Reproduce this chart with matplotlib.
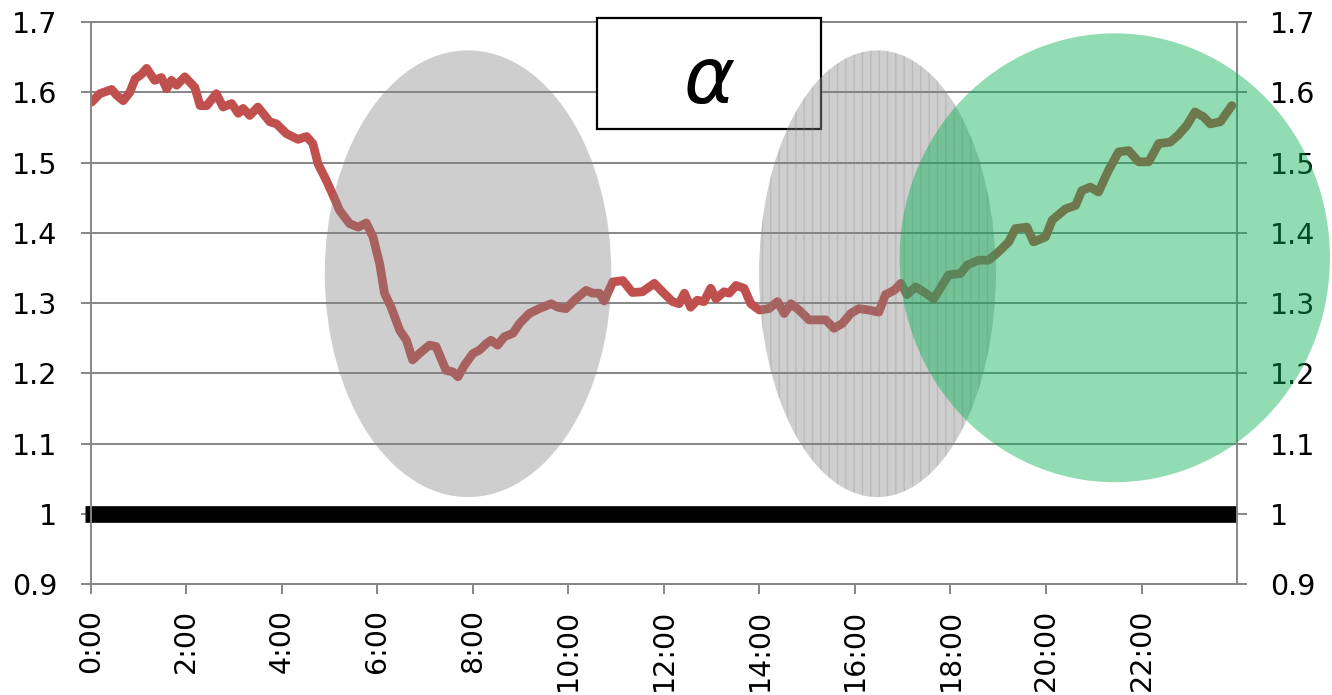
import matplotlib
matplotlib.use('Agg')
import matplotlib.pyplot as plt
from matplotlib.patches import Ellipse, Rectangle
from matplotlib.ticker import FuncFormatter, MultipleLocator

plt.rcParams['font.family'] = ['DejaVu Sans']
plt.rcParams['font.size'] = 20.5

# 时间（小时）与数值
hours = [0.02, 0.19, 0.44, 0.54, 0.68, 0.82, 0.93, 1.07, 1.17, 1.34, 1.48, 1.59, 1.69, 1.80, 1.97,
         2.18, 2.29, 2.43, 2.63, 2.77, 2.95, 3.09, 3.19, 3.33, 3.50, 3.75, 3.89, 4.10, 4.34, 4.52,
         4.65, 4.76, 4.93, 5.09, 5.21, 5.42, 5.60, 5.77, 5.91, 6.05, 6.15, 6.29, 6.47, 6.61, 6.74,
         6.88, 7.09, 7.23, 7.44, 7.58, 7.69, 7.83, 8.00, 8.14, 8.28, 8.38, 8.52, 8.66, 8.84, 8.98,
         9.18, 9.39, 9.64, 9.78, 9.95, 10.16, 10.37, 10.51, 10.65, 10.75, 10.93, 11.14, 11.34, 11.55,
         11.80, 11.97, 12.18, 12.32, 12.43, 12.56, 12.70, 12.84, 12.98, 13.09, 13.26, 13.37, 13.51,
         13.68, 13.82, 14.00, 14.20, 14.38, 14.52, 14.66, 14.83, 15.04, 15.21, 15.39, 15.56, 15.74,
         15.91, 16.08, 16.29, 16.50, 16.64, 16.82, 16.96, 17.09, 17.27, 17.48, 17.65, 17.96, 18.21,
         18.35, 18.59, 18.80, 19.01, 19.22, 19.36, 19.60, 19.74, 19.99, 20.13, 20.41, 20.62, 20.75,
         20.93, 21.10, 21.31, 21.52, 21.73, 21.94, 22.15, 22.36, 22.60, 22.77, 22.95, 23.12, 23.30,
         23.44, 23.65, 23.89]
values = [1.586, 1.598, 1.604, 1.596, 1.588, 1.600, 1.619, 1.626, 1.634, 1.617, 1.621, 1.605, 1.617,
          1.610, 1.622, 1.607, 1.581, 1.581, 1.598, 1.579, 1.584, 1.570, 1.577, 1.567, 1.579, 1.558,
          1.555, 1.541, 1.533, 1.537, 1.527, 1.498, 1.475, 1.451, 1.432, 1.413, 1.408, 1.414, 1.394,
          1.356, 1.314, 1.294, 1.261, 1.247, 1.219, 1.228, 1.240, 1.238, 1.204, 1.202, 1.195, 1.212,
          1.228, 1.233, 1.242, 1.247, 1.240, 1.252, 1.257, 1.271, 1.285, 1.292, 1.299, 1.294, 1.292,
          1.306, 1.318, 1.314, 1.314, 1.303, 1.330, 1.332, 1.315, 1.316, 1.328, 1.316, 1.302, 1.299,
          1.314, 1.294, 1.304, 1.302, 1.321, 1.306, 1.316, 1.314, 1.325, 1.321, 1.299, 1.290, 1.292,
          1.302, 1.285, 1.299, 1.290, 1.276, 1.276, 1.276, 1.264, 1.271, 1.285, 1.292, 1.290, 1.287,
          1.312, 1.318, 1.328, 1.312, 1.323, 1.314, 1.306, 1.340, 1.342, 1.354, 1.361, 1.361, 1.373,
          1.387, 1.406, 1.408, 1.387, 1.394, 1.418, 1.434, 1.439, 1.460, 1.465, 1.458, 1.489, 1.515,
          1.517, 1.501, 1.501, 1.527, 1.529, 1.539, 1.553, 1.572, 1.565, 1.555, 1.558, 1.581]

baseline = 1.0

# 椭圆区域: (中心时间, 中心值, 宽度(小时), 高度)
gray_zones = [(7.90, 1.3417, 6.0, 0.636), (16.47, 1.3417, 4.955, 0.636)]
green_zone = (21.44, 1.3644, 9.01, 0.639)

fig = plt.figure(figsize=(13.32, 6.95), dpi=100)
ax = fig.add_axes([0.0681, 0.1597, 0.8606, 0.8086])

ax.plot(hours, values, color='#C0504D', lw=6.3, solid_joinstyle='round',
        solid_capstyle='round', zorder=2)
ax.axhline(baseline, xmin=-0.005, xmax=1, color='black', lw=12, clip_on=False,
           solid_capstyle='butt', zorder=2)

# 灰色椭圆
e1 = Ellipse(gray_zones[0][:2], gray_zones[0][2], gray_zones[0][3],
             facecolor=(0.5, 0.5, 0.5, 0.38), edgecolor='none', zorder=3)
ax.add_patch(e1)
e2 = Ellipse(gray_zones[1][:2], gray_zones[1][2], gray_zones[1][3],
             facecolor=(0.5, 0.5, 0.5, 0.38), edgecolor=(0.55, 0.55, 0.55, 0.3),
             linewidth=0, hatch='||', zorder=3)
ax.add_patch(e2)

# 绿色椭圆
e3 = Ellipse(green_zone[:2], green_zone[2], green_zone[3],
             facecolor=(0.0, 0.69, 0.31, 0.43), edgecolor='none', zorder=4, clip_on=False)
ax.add_patch(e3)

# 文本框 α
box = Rectangle((0.4482, 0.8140), 0.1682, 0.1597, transform=fig.transFigure,
                facecolor='white', edgecolor='black', lw=1.6, zorder=2.5, clip_on=False)
ax.add_patch(box)
ax.text(0.5323, 0.8518, 'α', transform=fig.transFigure, fontsize=56,
        ha='center', va='baseline', zorder=2.6, fontstyle='italic')

ax.set_xlim(0, 24)
ax.set_ylim(0.9, 1.7)
ax.set_xticks([h for h in range(0, 24, 2)])
ax.xaxis.set_major_formatter(FuncFormatter(lambda x, p: '%d:00' % round(x)))
ax.yaxis.set_major_locator(MultipleLocator(0.1))
ax.yaxis.set_major_formatter(FuncFormatter(lambda y, p: ('%g' % round(y, 1))))

for lbl in ax.get_xticklabels():
    lbl.set_rotation(90)

ax.grid(axis='y', color='#868686', lw=1.4)
for g in ax.get_ygridlines():
    g.set_clip_on(False)
ax.spines['top'].set_visible(False)
for s in ['left', 'bottom', 'right']:
    ax.spines[s].set_color('#868686')
    ax.spines[s].set_linewidth(1.4)

ax.tick_params(axis='y', left=True, right=True, labelleft=True, labelright=True,
               direction='out', length=7, width=1.4, color='#868686', pad=17)
ax.tick_params(axis='x', direction='out', length=7, width=1.4, color='#868686', pad=11)

fig.savefig('out.png', dpi=100)
